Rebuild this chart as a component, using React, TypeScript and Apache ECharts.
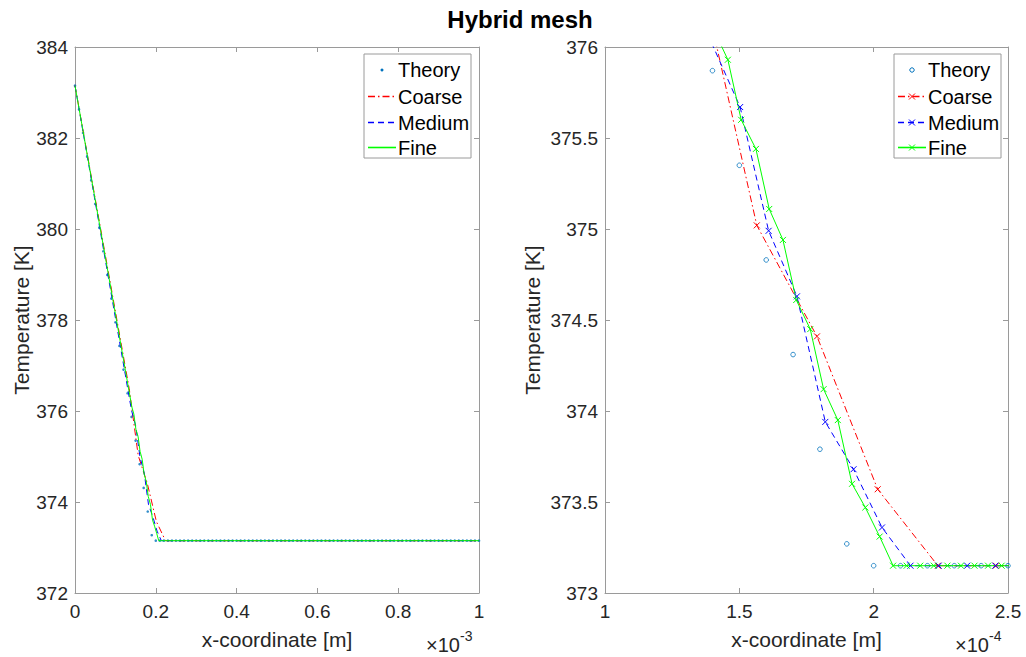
import React, { useEffect, useRef } from 'react';
import * as echarts from 'echarts';

// ---------- data (x in metres, temperature in K) ----------
const theoryX = [
  0e-5, 1e-5, 2e-5, 3e-5, 4e-5, 5e-5, 6e-5, 7e-5, 8e-5, 9e-5,
  10e-5, 11e-5, 12e-5, 13e-5, 14e-5, 15e-5, 16e-5, 17e-5, 18e-5, 19e-5,
  20e-5, 21e-5, 22e-5, 23e-5, 24e-5, 25e-5, 26e-5, 27e-5, 28e-5, 29e-5,
  30e-5, 31e-5, 32e-5, 33e-5, 34e-5, 35e-5, 36e-5, 37e-5, 38e-5, 39e-5,
  40e-5, 41e-5, 42e-5, 43e-5, 44e-5, 45e-5, 46e-5, 47e-5, 48e-5, 49e-5,
  50e-5, 51e-5, 52e-5, 53e-5, 54e-5, 55e-5, 56e-5, 57e-5, 58e-5, 59e-5,
  60e-5, 61e-5, 62e-5, 63e-5, 64e-5, 65e-5, 66e-5, 67e-5, 68e-5, 69e-5,
  70e-5, 71e-5, 72e-5, 73e-5, 74e-5, 75e-5, 76e-5, 77e-5, 78e-5, 79e-5,
  80e-5, 81e-5, 82e-5, 83e-5, 84e-5, 85e-5, 86e-5, 87e-5, 88e-5, 89e-5,
  90e-5, 91e-5, 92e-5, 93e-5, 94e-5, 95e-5, 96e-5, 97e-5, 98e-5, 99e-5,
  100e-5,
];
const theoryT = [
  383.15, 382.63, 382.11, 381.59, 381.07, 380.55, 380.03, 379.51, 378.99, 378.47,
  377.95, 377.43, 376.91, 376.39, 375.87, 375.35, 374.83, 374.31, 373.79, 373.27,
  373.15, 373.15, 373.15, 373.15, 373.15, 373.15, 373.15, 373.15, 373.15, 373.15,
  373.15, 373.15, 373.15, 373.15, 373.15, 373.15, 373.15, 373.15, 373.15, 373.15,
  373.15, 373.15, 373.15, 373.15, 373.15, 373.15, 373.15, 373.15, 373.15, 373.15,
  373.15, 373.15, 373.15, 373.15, 373.15, 373.15, 373.15, 373.15, 373.15, 373.15,
  373.15, 373.15, 373.15, 373.15, 373.15, 373.15, 373.15, 373.15, 373.15, 373.15,
  373.15, 373.15, 373.15, 373.15, 373.15, 373.15, 373.15, 373.15, 373.15, 373.15,
  373.15, 373.15, 373.15, 373.15, 373.15, 373.15, 373.15, 373.15, 373.15, 373.15,
  373.15, 373.15, 373.15, 373.15, 373.15, 373.15, 373.15, 373.15, 373.15, 373.15,
  373.15,
];

const coarseX = [0, 1.342e-4, 1.565e-4, 1.789e-4, 2.015e-4, 2.239e-4, 2.455e-4, 2.68e-4, 10e-4];
const coarseT = [383.15, 376.49, 375.02, 374.41, 373.57, 373.15, 373.15, 373.15, 373.15];

const mediumX = [0, 1.3975e-4, 1.503e-4, 1.609e-4, 1.7145e-4, 1.82e-4, 1.925e-4, 2.031e-4, 2.137e-4, 2.242e-4, 2.348e-4, 2.453e-4, 2.559e-4, 10e-4];
const mediumT = [383.15, 376.02, 375.67, 374.99, 374.63, 373.94, 373.68, 373.36, 373.15, 373.15, 373.15, 373.15, 373.15, 373.15];

const fineX = [
  0, 1.4067e-4, 1.4573e-4, 1.5069e-4, 1.5617e-4, 1.6112e-4, 1.6623e-4, 1.7119e-4, 1.764e-4,
  1.8136e-4, 1.8666e-4, 1.9195e-4, 1.969e-4, 2.0223e-4, 2.0723e-4, 2.1228e-4, 2.1733e-4,
  2.2238e-4, 2.2743e-4, 2.3248e-4, 2.3753e-4, 2.4258e-4, 2.4763e-4, 2.5268e-4, 10e-4,
];
const fineT = [
  383.15, 376.09, 375.93, 375.6, 375.44, 375.11, 374.94, 374.61, 374.45,
  374.12, 373.95, 373.6, 373.47, 373.31, 373.15, 373.15, 373.15,
  373.15, 373.15, 373.15, 373.15, 373.15, 373.15, 373.15, 373.15,
];

const seriesNames = ['Theory', 'Coarse', 'Medium', 'Fine'];
const titleText = 'Hybrid mesh';
const xLabel = 'x-coordinate [m]';
const yLabel = 'Temperature [K]';

// ---------- styling ----------
const FONT = "'Liberation Sans', Arial, Helvetica, sans-serif";
const BOX = '#9a9a9a';
const TXT = '#262626';
const C_TH = '#0072BD';
const C_CO = '#ff0000';
const C_ME = '#0000ff';
const C_FI = '#00ff00';
const DASHDOT = [7, 3, 1.5, 3];
const DASH = [6, 4];
const XSYM = 'path://M0,0L10,10M10,0L0,10';
const LW = 1;

const pairs = (xs: number[], ys: number[]) => xs.map((x, i) => [x, ys[i]]);

function xAxisDef(grid: number, min: number, max: number, interval: number, fmt: (v: number) => string, top: boolean) {
  return {
    type: 'value', gridIndex: grid, min, max, interval,
    position: top ? 'top' : 'bottom',
    axisLine: { show: true, onZero: false, lineStyle: { color: BOX, width: 1 } },
    axisTick: { show: true, inside: true, length: 5, lineStyle: { color: BOX } },
    axisLabel: top ? { show: false } : { show: true, formatter: fmt, fontSize: 19, color: TXT, fontFamily: FONT, margin: 9 },
    splitLine: { show: false },
    name: top ? '' : xLabel,
    nameLocation: 'middle', nameGap: 36,
    nameTextStyle: { fontSize: 21, color: TXT, fontFamily: FONT },
  };
}
function yAxisDef(grid: number, min: number, max: number, interval: number, right: boolean, gap: number) {
  return {
    type: 'value', gridIndex: grid, min, max, interval,
    position: right ? 'right' : 'left',
    axisLine: { show: true, onZero: false, lineStyle: { color: BOX, width: 1 } },
    axisTick: { show: true, inside: true, length: 5, lineStyle: { color: BOX } },
    axisLabel: right ? { show: false } : { show: true, fontSize: 19, color: TXT, fontFamily: FONT, margin: 7 },
    splitLine: { show: false },
    name: right ? '' : yLabel,
    nameLocation: 'middle', nameGap: gap,
    nameTextStyle: { fontSize: 21, color: TXT, fontFamily: FONT },
  };
}

function legend(tag: string, x0: number, withMarkers: boolean) {
  const ys = [70, 96.5, 122.5, 147.5];
  const els: any[] = [
    { id: tag + 'box', type: 'rect', shape: { x: x0, y: 54, width: 107, height: 104 }, style: { fill: '#fff', stroke: BOX, lineWidth: 1 }, z: 100 },
  ];
  const cx = x0 + 18;
  if (withMarkers) {
    els.push({ id: tag + 'th', type: 'circle', shape: { cx, cy: ys[0], r: 2.2 }, style: { fill: '#fff', stroke: C_TH, lineWidth: 1 }, z: 101 });
  } else {
    els.push({ id: tag + 'th', type: 'circle', shape: { cx, cy: ys[0], r: 1.5 }, style: { fill: C_TH }, z: 101 });
  }
  const lines = [
    { c: C_CO, d: DASHDOT },
    { c: C_ME, d: DASH },
    { c: C_FI, d: null },
  ];
  lines.forEach((l, i) => {
    const y = ys[i + 1];
    if (l.d) {
      els.push({
        id: tag + 'ln' + i, type: 'line',
        shape: { x1: x0 + 4, y1: y, x2: x0 + 32, y2: y },
        style: { stroke: l.c, lineWidth: 1.3, lineDash: l.d }, z: 101,
      });
    } else {
      els.push({
        id: tag + 'ln' + i, type: 'rect',
        shape: { x: x0 + 4, y: y - 0.8, width: 28, height: 1.6 },
        style: { fill: l.c }, z: 101,
      });
    }
    if (withMarkers) {
      els.push({ id: tag + 'ma' + i, type: 'line', shape: { x1: cx - 3, y1: y - 3, x2: cx + 3, y2: y + 3 }, style: { stroke: l.c, lineWidth: 1 }, z: 102 });
      els.push({ id: tag + 'mb' + i, type: 'line', shape: { x1: cx - 3, y1: y + 3, x2: cx + 3, y2: y - 3 }, style: { stroke: l.c, lineWidth: 1 }, z: 102 });
    }
  });
  seriesNames.forEach((n, i) => {
    els.push({ id: tag + 'tx' + i, type: 'text', x: x0 + 34, y: ys[i], style: { text: n, font: `20px ${FONT}`, fill: '#000', textAlign: 'left', textVerticalAlign: 'middle' }, z: 103 });
  });
  return els;
}

function exponent(tag: string, xRight: number, exp: string) {
  return [
    { id: tag + 'b', type: 'text', x: xRight, y: 645, style: { text: '×10', font: `20px ${FONT}`, fill: TXT, textAlign: 'right', textVerticalAlign: 'middle' }, z: 100 },
    { id: tag + 'e', type: 'text', x: xRight, y: 636, style: { text: exp, font: `14px ${FONT}`, fill: TXT, textAlign: 'left', textVerticalAlign: 'middle' }, z: 100 },
  ];
}

function lineSeries(name: string, xi: number, xs: number[], ys: number[], color: string, dash: any, markers: boolean) {
  return {
    type: 'line', name, xAxisIndex: xi, yAxisIndex: xi,
    data: pairs(xs, ys),
    showSymbol: markers, showAllSymbol: true,
    symbol: XSYM, symbolSize: 6,
    itemStyle: { color, borderColor: color, borderWidth: LW },
    lineStyle: { color, width: LW, type: dash || 'solid' },
    clip: true, silent: true,
  };
}

const fmtL = (v: number) => String(parseFloat((v * 1e3).toFixed(3)));
const fmtR = (v: number) => String(parseFloat((v * 1e4).toFixed(3)));

const option: any = {
  animation: false,
  backgroundColor: '#fff',
  textStyle: { fontFamily: FONT },
  grid: [
    { left: 75, top: 47, width: 404, height: 546 },
    { left: 605, top: 47, width: 403, height: 546 },
  ],
  xAxis: [
    xAxisDef(0, 0, 1e-3, 2e-4, fmtL, false),
    xAxisDef(0, 0, 1e-3, 2e-4, fmtL, true),
    xAxisDef(1, 1e-4, 2.5e-4, 5e-5, fmtR, false),
    xAxisDef(1, 1e-4, 2.5e-4, 5e-5, fmtR, true),
  ],
  yAxis: [
    yAxisDef(0, 372, 384, 2, false, 43),
    yAxisDef(0, 372, 384, 2, true, 0),
    yAxisDef(1, 373, 376, 0.5, false, 62),
    yAxisDef(1, 373, 376, 0.5, true, 0),
  ],
  series: [
    { type: 'scatter', name: 'Theory', xAxisIndex: 0, yAxisIndex: 0, data: pairs(theoryX, theoryT), symbol: 'circle', symbolSize: 2.6, itemStyle: { color: C_TH }, silent: true },
    lineSeries('Coarse', 0, coarseX, coarseT, C_CO, DASHDOT, false),
    lineSeries('Medium', 0, mediumX, mediumT, C_ME, DASH, false),
    lineSeries('Fine', 0, fineX, fineT, C_FI, null, false),
    { type: 'scatter', name: 'Theory', xAxisIndex: 2, yAxisIndex: 2, data: pairs(theoryX, theoryT), symbol: 'circle', symbolSize: 4.6, itemStyle: { color: 'rgba(255,255,255,0)', borderColor: C_TH, borderWidth: 1 }, clip: true, silent: true },
    lineSeries('Coarse', 2, coarseX, coarseT, C_CO, DASHDOT, true),
    lineSeries('Medium', 2, mediumX, mediumT, C_ME, DASH, true),
    lineSeries('Fine', 2, fineX, fineT, C_FI, null, true),
  ],
  graphic: [
    { id: 'title', type: 'text', x: 520, y: 19, style: { text: titleText, font: `bold 24px ${FONT}`, fill: '#000', textAlign: 'center', textVerticalAlign: 'middle' }, z: 100 },
    ...legend('L', 364, false),
    ...legend('R', 894, true),
    ...exponent('eL', 460, '-3'),
    ...exponent('eR', 989, '-4'),
  ],
};

export default function App() {
  const ref = useRef<HTMLDivElement>(null);
  useEffect(() => {
    const chart = echarts.init(ref.current as HTMLDivElement, null, { renderer: 'svg' });
    chart.setOption(option);
    return () => chart.dispose();
  }, []);
  return (
    <div
      ref={ref}
      style={{ position: 'fixed', left: 0, top: 0, width: 1026, height: 657, background: '#fff' }}
    />
  );
}
